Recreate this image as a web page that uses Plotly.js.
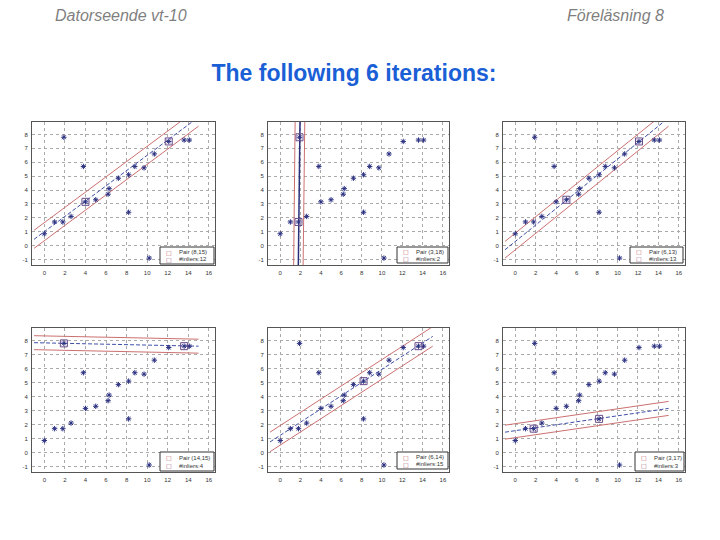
<!DOCTYPE html>
<html>
<head>
<meta charset="utf-8">
<script src="https://cdn.plot.ly/plotly-3.0.1.min.js"></script>
<style>html,body{margin:0;padding:0;background:#fff;}#chart{width:720px;height:540px;}</style>
</head>
<body>
<div id="chart"></div>
<script>
// Data points (same in every iteration)
const ptsX = [0, 1, 1.8, 1.9, 2.6, 3.8, 4.0, 5.0, 6.2, 6.3, 7.2, 8.2, 8.2, 8.8, 9.7, 10.2, 10.7, 12.1, 13.6, 14.1];
const ptsY = [0.85, 1.7, 1.7, 7.8, 2.1, 5.7, 3.15, 3.3, 3.7, 4.1, 4.85, 5.1, 2.4, 5.7, 5.6, -0.9, 6.6, 7.5, 7.6, 7.6];

// Chosen pair per iteration (indices into the points)
const pairIdx = [[6, 17], [2, 3], [7, 17], [3, 18], [11, 18], [2, 12]];

// Fitted line and band lines per iteration
const centerLineX = [[-1, 15], [1.78, 1.95], [-1, 15], [-1, 15], [-1, 15], [-1, 15]];
const centerLineY = [[0.45, 9.25], [-1.6, 9.1], [-0.3, 9.2], [7.85, 7.6], [0.75, 8.3], [1.45, 3.15]];
const upperLineX = [[-1, 15], [1.32, 1.47], [-1, 15], [-1, 15], [-1, 15], [-1, 15]];
const upperLineY = [[1.1, 9.9], [-1.6, 9.1], [0.3, 9.8], [8.35, 8.1], [1.45, 9.0], [1.95, 3.65]];
const lowerLineX = [[-1, 15], [2.25, 2.42], [-1, 15], [-1, 15], [-1, 15], [-1, 15]];
const lowerLineY = [[-0.2, 8.6], [-1.6, 9.1], [-0.9, 8.6], [7.35, 7.1], [0.05, 7.6], [0.95, 2.65]];

// Legend texts
const pairLabels = ["Pair (8,15)", "Pair (3,18)", "Pair (6,13)", "Pair (14,15)", "Pair (6,14)", "Pair (3,17)"];
const inlierLabels = ["#inliers:12", "#inliers:2", "#inliers:13", "#inliers:4", "#inliers:15", "#inliers:3"];

// Axis ticks
const xTicks = [0, 2, 4, 6, 8, 10, 12, 14, 16];
const yTicks = [-1, 0, 1, 2, 3, 4, 5, 6, 7, 8];

// Layout geometry (pixels)
const panelX = [[32, 215], [268, 449], [503, 685]];
const panelY = [[122, 265], [328, 472]];
const legendBoxes = [[160,247,214,264],[397,247,448,263],[630,247,683,263],[160,452,214,471],[397,452,448,469],[635,452,684,471]];

const W = 720, H = 540;
const px = v => v / W, py = v => 1 - v / H;
const FONT = "Liberation Sans, Arial, sans-serif";

const traces = [];
const layout = {
  width: W, height: H,
  margin: {l: 0, r: 0, t: 0, b: 0},
  paper_bgcolor: "#fff", plot_bgcolor: "#fff",
  showlegend: false,
  title: {
    text: "<b>The following 6 iterations:</b>",
    x: px(354), xanchor: "center", y: py(73), yanchor: "middle",
    font: {family: FONT, size: 23, color: "#1a5fd6"}
  },
  annotations: [
    {text: "<i>Datorseende vt-10</i>", xref: "paper", yref: "paper", x: px(121), y: py(15),
     xanchor: "center", yanchor: "middle", showarrow: false, font: {family: FONT, size: 16, color: "#7f7f7f"}},
    {text: "<i>Föreläsning 8</i>", xref: "paper", yref: "paper", x: px(615), y: py(15),
     xanchor: "center", yanchor: "middle", showarrow: false, font: {family: FONT, size: 16, color: "#7f7f7f"}}
  ],
  shapes: []
};

for (let k = 0; k < 6; k++) {
  const n = k + 1;
  const xa = n === 1 ? "x" : "x" + n, ya = n === 1 ? "y" : "y" + n;
  const col = k % 3, row = Math.floor(k / 3);
  const axStyle = {
    showgrid: true, gridcolor: "#aaaaaa", griddash: "dot", gridwidth: 1,
    zeroline: false, showline: true, mirror: true, linecolor: "#555", linewidth: 1,
    ticks: "", tickfont: {family: FONT, size: 6, color: "#333"}, fixedrange: true
  };
  layout["xaxis" + (n === 1 ? "" : n)] = Object.assign({}, axStyle, {
    domain: [px(panelX[col][0]), px(panelX[col][1])], range: [-1.2, 16.6],
    tickvals: xTicks, ticktext: xTicks.map(String), anchor: ya, ticklabelstandoff: 2
  });
  layout["yaxis" + (n === 1 ? "" : n)] = Object.assign({}, axStyle, {
    domain: [py(panelY[row][1]), py(panelY[row][0])], range: [-1.4, 8.9],
    tickvals: yTicks, ticktext: yTicks.map(String), anchor: xa, ticklabelstandoff: 2
  });

  const lineStyle = (c, w, d) => ({color: c, width: w, dash: d});
  traces.push({x: upperLineX[k], y: upperLineY[k], xaxis: xa, yaxis: ya, mode: "lines",
               line: lineStyle("#cc7070", 1, "solid"), hoverinfo: "skip"});
  traces.push({x: lowerLineX[k], y: lowerLineY[k], xaxis: xa, yaxis: ya, mode: "lines",
               line: lineStyle("#cc7070", 1, "solid"), hoverinfo: "skip"});
  traces.push({x: centerLineX[k], y: centerLineY[k], xaxis: xa, yaxis: ya, mode: "lines",
               line: k === 1 ? lineStyle("#2a2f7a", 1.5, "solid") : lineStyle("#4050a8", 1, "4px,2px"), hoverinfo: "skip"});
  traces.push({x: ptsX, y: ptsY, xaxis: xa, yaxis: ya, mode: "markers", cliponaxis: false,
               marker: {symbol: "asterisk-open", size: 4.5, color: "#2b3080", line: {width: 1, color: "#2b3080"}}});
  traces.push({x: pairIdx[k].map(i => ptsX[i]), y: pairIdx[k].map(i => ptsY[i]), xaxis: xa, yaxis: ya, mode: "markers",
               marker: {symbol: "square-open", size: 7, color: "#6a4a8a", line: {width: 1, color: "#6a4a8a"}}});

  // legend box
  const b = legendBoxes[k];
  layout.shapes.push({type: "rect", xref: "paper", yref: "paper", x0: px(b[0]), x1: px(b[2]), y0: py(b[3]), y1: py(b[1]),
                      fillcolor: "#fff", line: {color: "#333", width: 1}, layer: "above"});
  const r1 = b[1] + (b[3] - b[1]) * 0.3, r2 = b[1] + (b[3] - b[1]) * 0.72;
  layout.annotations.push(
    {text: "□", xref: "paper", yref: "paper", x: px(b[0] + 9), y: py(r1), xanchor: "center", yanchor: "middle",
     showarrow: false, font: {family: "DejaVu Sans", size: 6, color: "#c0505a"}},
    {text: "□", xref: "paper", yref: "paper", x: px(b[0] + 9), y: py(r2), xanchor: "center", yanchor: "middle",
     showarrow: false, font: {family: "DejaVu Sans", size: 6, color: "#a0507a"}},
    {text: pairLabels[k], xref: "paper", yref: "paper", x: px(b[0] + 17), y: py(r1), xanchor: "left", yanchor: "middle",
     showarrow: false, font: {family: FONT, size: 6, color: "#333"}},
    {text: inlierLabels[k], xref: "paper", yref: "paper", x: px(b[0] + 17), y: py(r2), xanchor: "left", yanchor: "middle",
     showarrow: false, font: {family: FONT, size: 6, color: "#333"}}
  );
}

Plotly.newPlot("chart", traces, layout, {displayModeBar: false, staticPlot: true});
</script>
</body>
</html>
